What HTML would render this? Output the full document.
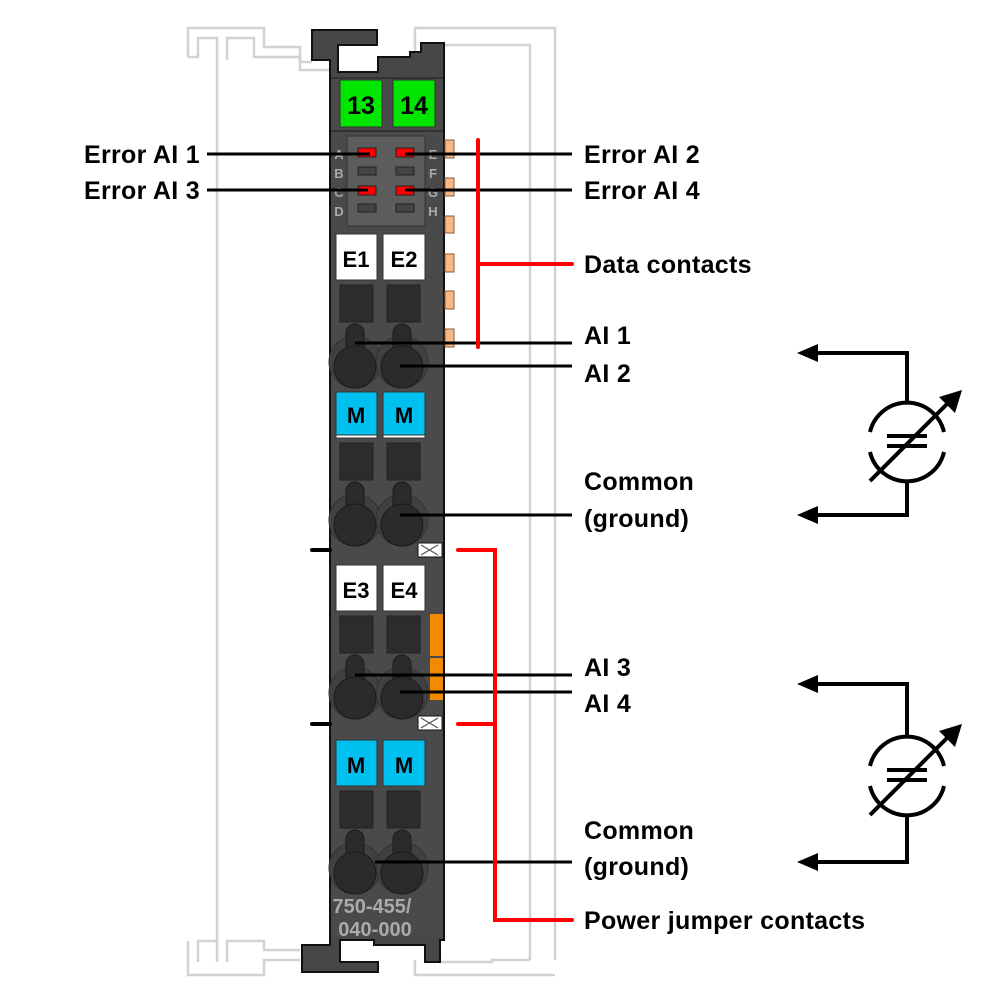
<!DOCTYPE html>
<html><head><meta charset="utf-8"><style>
html,body{margin:0;padding:0;background:#fff}
svg{display:block}
text{font-family:"Liberation Sans",sans-serif}
</style></head><body>
<svg width="1006" height="1007" viewBox="0 0 1006 1007" xmlns="http://www.w3.org/2000/svg">
<!-- rails -->
<g fill="none" stroke="#d2d2d2" stroke-width="2.5">
<path d="M188 57 V28 H264 V47 H300 V62 H312"/>
<path d="M188 57 H198 V38 H217 V962"/>
<path d="M227 60 V38 H254 V57 H300 V70 H330"/>
<path d="M415 52 V28 H555 V960"/>
<path d="M444 72 V45 H530 V960"/>
<path d="M188 941 V975 H264 V960 H300"/>
<path d="M198 962 V941 H217 M227 962 V941 H264 V950 H300"/>
<path d="M415 960 V975 H555 M440 945 V962 H492 V960 H530"/>
</g>
<!-- module body -->
<path d="M330 77 V60 H312 V30 H377 V45 H338 V72 H378 V57 H410 V52 H421 V43 H444 V940 H440 V962 H425 V945 H374 V940 H340 V962 H378 V972 H302 V945 H330 Z" fill="#474747" stroke="#111" stroke-width="2"/>
<rect x="331" y="77" width="112" height="860" fill="#4a4a4a"/>
<line x1="331" y1="78" x2="443" y2="78" stroke="#333" stroke-width="2"/>
<line x1="331" y1="131" x2="443" y2="131" stroke="#333" stroke-width="2"/>
<!-- green -->
<rect x="340" y="80" width="42" height="47" fill="#00e600" stroke="#333"/>
<rect x="393" y="80" width="42" height="47" fill="#00e600" stroke="#333"/>
<text x="361" y="114" font-size="25" text-anchor="middle" font-weight="bold" fill="#000">13</text>
<text x="414" y="114" font-size="25" text-anchor="middle" font-weight="bold" fill="#000">14</text>
<!-- LED panel -->
<rect x="347" y="136" width="78" height="90" fill="#5c5c5c" stroke="#333"/>
<g fill="#444" stroke="#222">
<rect x="358" y="148" width="18" height="9" fill="#ff0000"/><rect x="396" y="148" width="18" height="9" fill="#ff0000"/>
<rect x="358" y="167" width="18" height="8"/><rect x="396" y="167" width="18" height="8"/>
<rect x="358" y="186" width="18" height="9" fill="#ff0000"/><rect x="396" y="186" width="18" height="9" fill="#ff0000"/>
<rect x="358" y="204" width="18" height="8"/><rect x="396" y="204" width="18" height="8"/>
</g>
<g font-size="13" font-weight="bold" fill="#aaa" text-anchor="middle">
<text x="339" y="159">A</text><text x="339" y="178">B</text><text x="339" y="197">C</text><text x="339" y="216">D</text>
<text x="433" y="159">E</text><text x="433" y="178">F</text><text x="433" y="197">G</text><text x="433" y="216">H</text>
</g>
<!-- data contacts -->
<g fill="#f7b888" stroke="#8a5a3a">
<rect x="445" y="140" width="9" height="18"/><rect x="445" y="178" width="9" height="18"/><rect x="445" y="216" width="9" height="17"/>
<rect x="445" y="254" width="9" height="18"/><rect x="445" y="291" width="9" height="18"/><rect x="445" y="329" width="9" height="18"/>
</g>
<!-- terminal groups -->
<g id="t1">
<rect x="336" y="234" width="41" height="46" fill="#fff" stroke="#333"/>
<rect x="383" y="234" width="42" height="46" fill="#fff" stroke="#333"/>
<rect x="340" y="285" width="33" height="37" fill="#2c2c2c" stroke="#222"/>
<rect x="387" y="285" width="33" height="37" fill="#2c2c2c" stroke="#222"/>
<circle cx="355" cy="362" r="26" fill="#404040" stroke="#333"/>
<circle cx="402" cy="362" r="26" fill="#404040" stroke="#333"/>
<rect x="346" y="324" width="18" height="30" rx="9" fill="#2b2b2b" stroke="#1a1a1a"/>
<rect x="393" y="324" width="18" height="30" rx="9" fill="#2b2b2b" stroke="#1a1a1a"/>
<circle cx="355" cy="367" r="21" fill="#2b2b2b" stroke="#1a1a1a"/>
<circle cx="402" cy="367" r="21" fill="#2b2b2b" stroke="#1a1a1a"/>
</g>
<text x="356" y="267" font-size="22" font-weight="bold" text-anchor="middle">E1</text>
<text x="404" y="267" font-size="22" font-weight="bold" text-anchor="middle">E2</text>
<use href="#t1" y="158"/>
<rect x="336" y="392" width="41" height="43" fill="#00c0f0" stroke="#333"/>
<rect x="383" y="392" width="42" height="43" fill="#00c0f0" stroke="#333"/>
<text x="356" y="423" font-size="22" font-weight="bold" text-anchor="middle">M</text>
<text x="404" y="423" font-size="22" font-weight="bold" text-anchor="middle">M</text>
<use href="#t1" y="331"/>
<text x="356" y="598" font-size="22" font-weight="bold" text-anchor="middle">E3</text>
<text x="404" y="598" font-size="22" font-weight="bold" text-anchor="middle">E4</text>
<use href="#t1" y="506"/>
<rect x="336" y="740" width="41" height="46" fill="#00c0f0" stroke="#333"/>
<rect x="383" y="740" width="42" height="46" fill="#00c0f0" stroke="#333"/>
<text x="356" y="773" font-size="22" font-weight="bold" text-anchor="middle">M</text>
<text x="404" y="773" font-size="22" font-weight="bold" text-anchor="middle">M</text>
<!-- orange strip -->
<rect x="430" y="614" width="13" height="42" fill="#f08a00"/>
<rect x="430" y="658" width="13" height="42" fill="#f08a00"/>
<!-- power jumper -->
<rect x="418" y="543" width="24" height="14" fill="#fff" stroke="#111"/>
<rect x="418" y="716" width="24" height="14" fill="#fff" stroke="#111"/>
<path d="M421 545 L438 555 M421 555 L438 545 M421 718 L438 728 M421 728 L438 718" stroke="#555" stroke-width="1.2"/>
<path d="M312 550 H330 M312 724 H330" stroke="#000" stroke-width="4" stroke-linecap="round"/>
<text x="372" y="913" font-size="20" font-weight="bold" fill="#aaa" text-anchor="middle">750-455/</text>
<text x="375" y="936" font-size="20" font-weight="bold" fill="#aaa" text-anchor="middle">040-000</text>
<!-- leader lines -->
<g stroke="#000" stroke-width="3">
<line x1="207" y1="154" x2="370" y2="154"/><line x1="207" y1="190" x2="368" y2="190"/>
<line x1="405" y1="154" x2="572" y2="154"/><line x1="405" y1="190" x2="572" y2="190"/>
<line x1="355" y1="343" x2="572" y2="343"/><line x1="400" y1="366" x2="572" y2="366"/>
<line x1="400" y1="515" x2="572" y2="515"/>
<line x1="355" y1="675" x2="572" y2="675"/><line x1="400" y1="692" x2="572" y2="692"/>
<line x1="375" y1="862" x2="572" y2="862"/>
</g>
<g stroke="#ff0000" stroke-width="4" fill="none" stroke-linecap="round">
<path d="M478 140 V347 M478 264 H572"/>
<path d="M458 550 H495 V920 H572 M458 724 H495"/>
</g>
<!-- labels -->
<g font-size="25" font-weight="bold" fill="#000" letter-spacing="0.3">
<text x="200" y="163" text-anchor="end">Error AI 1</text>
<text x="200" y="199" text-anchor="end">Error AI 3</text>
<text x="584" y="163">Error AI 2</text>
<text x="584" y="199">Error AI 4</text>
<text x="584" y="273">Data contacts</text>
<text x="584" y="344">AI 1</text>
<text x="584" y="382">AI 2</text>
<text x="584" y="490">Common</text>
<text x="584" y="527">(ground)</text>
<text x="584" y="676">AI 3</text>
<text x="584" y="712">AI 4</text>
<text x="584" y="839">Common</text>
<text x="584" y="875">(ground)</text>
<text x="584" y="929">Power jumper contacts</text>
</g>
<!-- sensors -->
<g stroke="#000" stroke-width="4" fill="none">
<path d="M815 353 H907 V402 M907 482 V515 H815"/>
<path d="M870 432 A38 38 0 0 1 944 432 M944 452 A38 38 0 0 1 870 452"/>
<line x1="887" y1="436" x2="927" y2="436"/><line x1="887" y1="446" x2="927" y2="446"/>
<line x1="870" y1="481" x2="950" y2="401"/>
<polygon points="797,353 818,344 818,362" fill="#000" stroke="none"/>
<polygon points="797,515 818,506 818,524" fill="#000" stroke="none"/>
<polygon points="962,390 955,413 939,397" fill="#000" stroke="none"/>
</g>
<g stroke="#000" stroke-width="4" fill="none">
<path d="M815 684 H907 V738 M907 814 V862 H815"/>
<path d="M870 766 A38 38 0 0 1 944 766 M944 786 A38 38 0 0 1 870 786"/>
<line x1="887" y1="770" x2="927" y2="770"/><line x1="887" y1="780" x2="927" y2="780"/>
<line x1="870" y1="815" x2="950" y2="735"/>
<polygon points="797,684 818,675 818,693" fill="#000" stroke="none"/>
<polygon points="797,862 818,853 818,871" fill="#000" stroke="none"/>
<polygon points="962,724 955,747 939,731" fill="#000" stroke="none"/>
</g>
</svg>
</body></html>
